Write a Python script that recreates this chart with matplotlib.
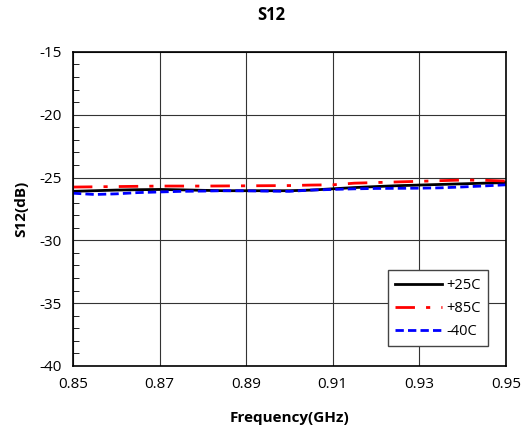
import matplotlib
matplotlib.use("Agg")
import matplotlib.pyplot as plt
from matplotlib.ticker import MultipleLocator

plt.rcParams['font.family'] = ['Open Sans', 'DejaVu Sans']
plt.rcParams['axes.unicode_minus'] = False

freq = [0.85, 0.855, 0.86, 0.865, 0.87, 0.875, 0.88, 0.885, 0.89, 0.895, 0.90,
        0.905, 0.91, 0.915, 0.92, 0.925, 0.93, 0.935, 0.94, 0.945, 0.95]
s12_25 = [-26.1, -26.05, -26.0, -25.97, -25.95, -25.98, -26.02, -26.05, -26.05, -26.05, -26.05,
          -26.0, -25.9, -25.8, -25.72, -25.65, -25.6, -25.55, -25.5, -25.45, -25.4]
s12_85 = [-25.76, -25.74, -25.72, -25.7, -25.68, -25.68, -25.68, -25.67, -25.66, -25.65, -25.64,
          -25.6, -25.58, -25.45, -25.4, -25.35, -25.3, -25.25, -25.2, -25.22, -25.28]
s12_m40 = [-26.25, -26.35, -26.3, -26.2, -26.15, -26.1, -26.08, -26.05, -26.06, -26.08, -26.1,
           -26.0, -25.95, -25.9, -25.87, -25.86, -25.85, -25.82, -25.75, -25.67, -25.58]
xticks = [0.85, 0.87, 0.89, 0.91, 0.93, 0.95]

fig = plt.figure(figsize=(5.21, 4.29), dpi=100)
ax = fig.add_axes([0.140, 0.147, 0.831, 0.732])

ax.plot(freq, s12_25, color='black', lw=2, label='+25C')
ax.plot(freq, s12_85, color='red', lw=2, dashes=[7, 4, 1.5, 4], label='+85C')
ax.plot(freq, s12_m40, color='blue', lw=2, dashes=[3, 1.5], label='-40C')

ax.set_xlim(0.85, 0.95)
ax.set_ylim(-40, -15)
ax.set_xticks(xticks)
ax.set_xticklabels([f"{v:.2f}" for v in xticks])
ax.yaxis.set_major_locator(MultipleLocator(5))
ax.yaxis.set_minor_locator(MultipleLocator(1))
ax.grid(True, which='major', color='#333333', lw=0.8)
ax.tick_params(axis='both', which='major', length=0, labelsize=11, pad=8)
ax.tick_params(axis='y', which='minor', direction='in', length=4, left=True)
for s in ax.spines.values():
    s.set_linewidth(1.2)

ax.set_xlabel('Frequency(GHz)', fontsize=11, fontweight='bold', labelpad=14)
ax.set_ylabel('S12(dB)', fontsize=11, fontweight='bold', labelpad=8)
fig.suptitle('S12', x=0.52, y=0.985, fontsize=12, fontweight='bold')

leg = ax.legend(loc='lower right', bbox_to_anchor=(0.975, 0.04), fancybox=False,
                edgecolor='#444444', framealpha=1, fontsize=10.5, handlelength=3.2,
                labelspacing=0.55, borderpad=0.5, handletextpad=0.3)
leg.get_frame().set_linewidth(1.0)

fig.savefig('out.png', dpi=100)
